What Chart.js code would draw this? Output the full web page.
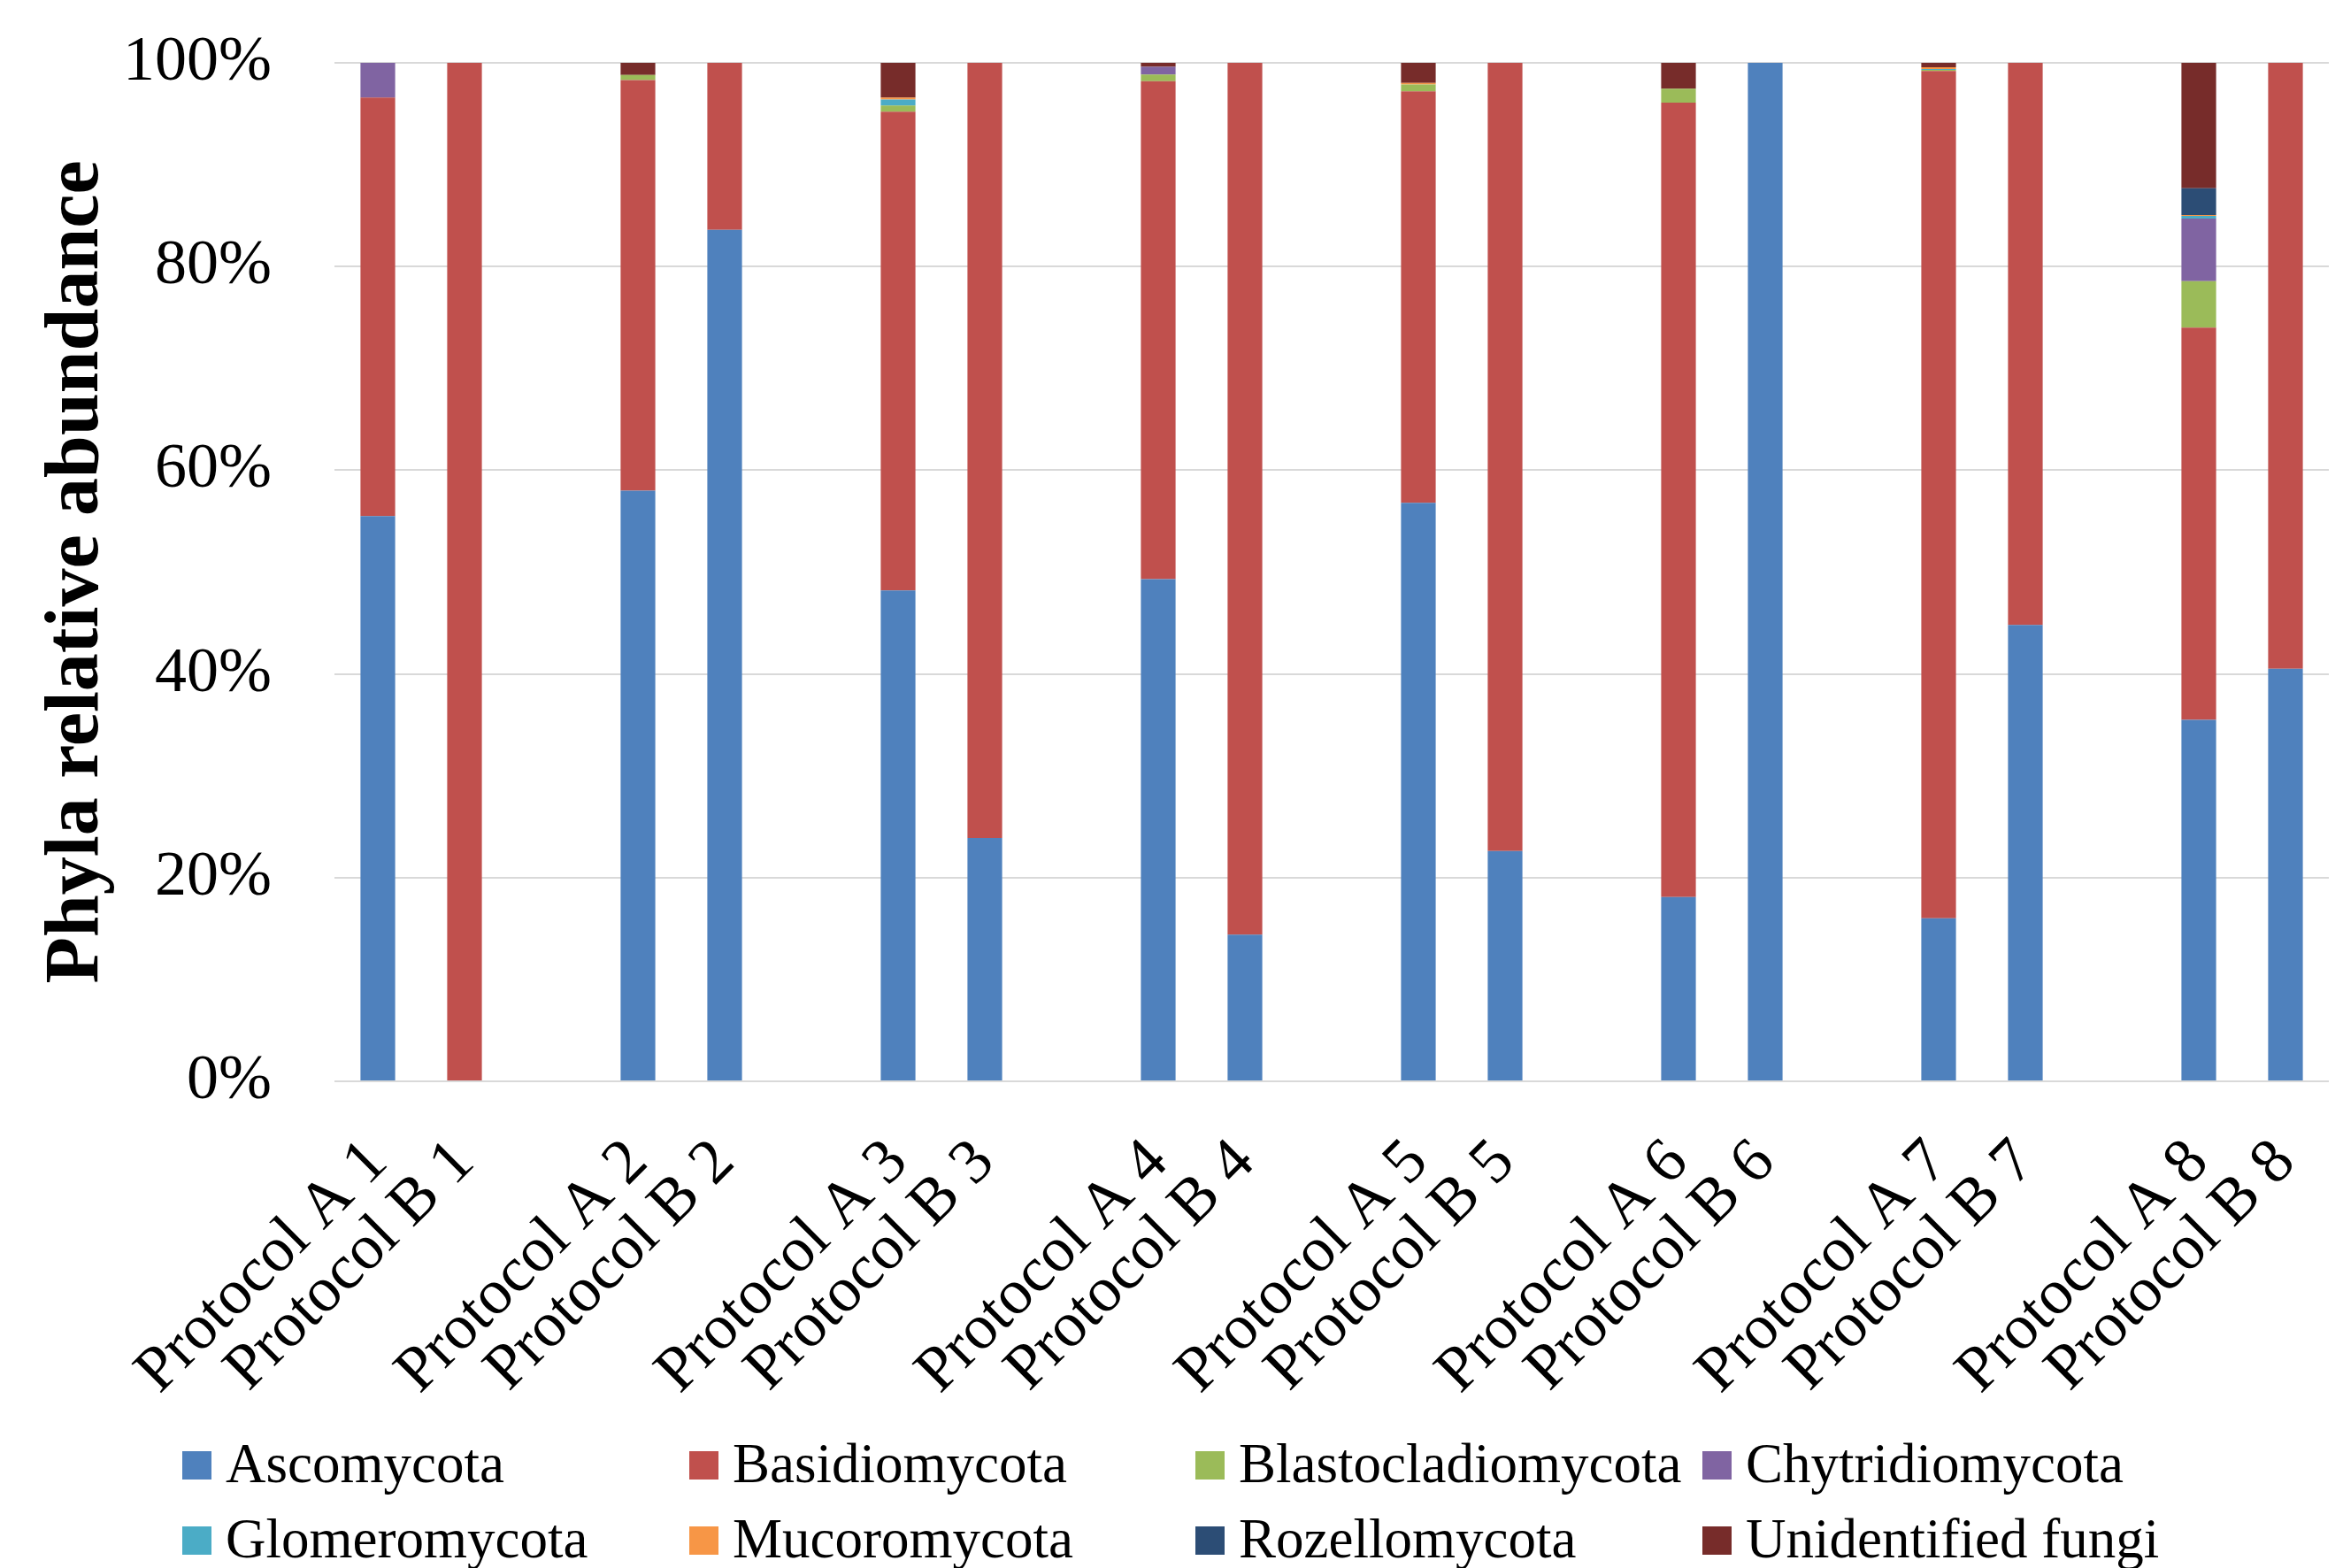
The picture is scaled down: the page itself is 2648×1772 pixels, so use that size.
<!DOCTYPE html>
<html><head><meta charset="utf-8">
<script src="https://cdn.jsdelivr.net/npm/chart.js@4/dist/chart.umd.min.js"></script>
<style>html,body{margin:0;padding:0;background:#fff;} #wrap{width:2648px;height:1772px;position:relative;}</style>
</head><body><div id="wrap"><canvas id="c" width="2648" height="1772"></canvas></div>
<script>
const categories = ['Protocol A 1','Protocol B 1','Protocol A 2','Protocol B 2','Protocol A 3','Protocol B 3','Protocol A 4','Protocol B 4',
  'Protocol A 5','Protocol B 5','Protocol A 6','Protocol B 6','Protocol A 7','Protocol B 7','Protocol A 8','Protocol B 8'];
const seriesNames = ['Ascomycota','Basidiomycota','Blastocladiomycota','Chytridiomycota','Glomeromycota','Mucoromycota','Rozellomycota','Unidentified fungi'];
const ascomycota      = [55.5, 0,   58.0, 83.6, 48.2, 23.9, 49.3, 14.4, 56.8, 22.6, 18.1, 100, 16.0, 44.8, 35.5, 40.5];
const basidiomycota   = [41.1, 100, 40.3, 16.4, 47.0, 76.1, 48.9, 85.6, 40.4, 77.4, 78.0, 0,   83.2, 55.2, 38.5, 59.5];
const blastocladiomycota = [0, 0,   0.5,  0,    0.6,  0,    0.65, 0,    0.67, 0,    1.36, 0,   0.1,  0,    4.57, 0];
const chytridiomycota = [3.4,  0,   0,    0,    0,    0,    0.75, 0,    0,    0,    0,    0,   0,    0,    6.14, 0];
const glomeromycota   = [0,    0,   0,    0,    0.6,  0,    0,    0,    0,    0,    0,    0,   0.1,  0,    0.26, 0];
const mucoromycota    = [0,    0,   0,    0,    0.2,  0,    0,    0,    0.15, 0,    0,    0,   0.17, 0,    0.09, 0];
const rozellomycota   = [0,    0,   0,    0,    0,    0,    0,    0,    0,    0,    0,    0,   0,    0,    2.63, 0];
const unidentified    = [0,    0,   1.2,  0,    3.4,  0,    0.4,  0,    2.0,  0,    2.55, 0,   0.43, 0,    12.3, 0];
const yTicks = ['0%','20%','40%','60%','80%','100%'];

const seriesValues = [ascomycota, basidiomycota, blastocladiomycota, chytridiomycota, glomeromycota, mucoromycota, rozellomycota, unidentified];
const colors = ['#4F81BD','#C0504D','#9BBB59','#8064A2','#4BACC6','#F79646','#2C4D75','#772C2A'];

// insert an empty category between each A/B pair group
function expand(arr, filler){ const out=[]; arr.forEach((v,i)=>{ if(i>0 && i%2===0) out.push(filler); out.push(v); }); return out; }
const labels = expand(categories, '');

const datasets = seriesNames.map((n,i)=>({
  label: n,
  data: expand(seriesValues[i], null),
  backgroundColor: colors[i],
  borderWidth: 0,
  categoryPercentage: 1.0,
  barPercentage: 0.4
}));

const legendPlugin = {
  id: 'gridLegend',
  afterDraw(chart){
    const ctx = chart.ctx;
    const colX = [206, 779, 1351, 1924];
    const rowBox = [1640, 1725];
    const rowBase = [1675, 1760];
    ctx.save();
    ctx.font = '63px "Liberation Serif"';
    ctx.textAlign = 'left';
    ctx.textBaseline = 'alphabetic';
    chart.data.datasets.forEach((ds,i)=>{
      const c = i % 4, r = Math.floor(i/4);
      ctx.fillStyle = ds.backgroundColor;
      ctx.fillRect(colX[c], rowBox[r], 33, 32);
      ctx.fillStyle = '#000';
      ctx.fillText(ds.label, colX[c] + 49, rowBase[r]);
    });
    ctx.restore();
  }
};

new Chart(document.getElementById('c'), {
  type: 'bar',
  data: { labels, datasets },
  plugins: [legendPlugin],
  options: {
    responsive: false,
    animation: false,
    devicePixelRatio: 1,
    layout: { padding: { left: 0, right: 16, top: 71, bottom: 0 } },
    plugins: { legend: { display: false }, tooltip: { enabled: false } },
    scales: {
      x: {
        stacked: true,
        grid: { display: false, drawTicks: false },
        border: { display: false },
        ticks: {
          autoSkip: false, maxRotation: 45, minRotation: 45,
          padding: 50, labelOffset: 0,
          color: '#000',
          font: { family: '"Liberation Serif"', size: 72 }
        },
        afterFit(scale){ scale.height = 550; scale.paddingLeft = 0; scale.paddingRight = 0; }
      },
      y: {
        stacked: true,
        min: 0, max: 100,
        grid: { color: '#D9D9D9', lineWidth: 2, drawTicks: false },
        border: { display: false },
        ticks: {
          stepSize: 20, padding: 71, color: '#000',
          font: { family: '"Liberation Serif"', size: 72 },
          callback: (v) => yTicks[Math.round(v/20)]
        },
        title: {
          display: true, text: 'Phyla relative abundance', color: '#000',
          font: { family: '"Liberation Serif"', size: 86, weight: 'bold' },
          padding: { top: 36, bottom: 0 }
        },
        afterFit(scale){ scale.width = 378; scale.paddingTop = 0; scale.paddingBottom = 0; }
      }
    }
  }
});
</script></body></html>
